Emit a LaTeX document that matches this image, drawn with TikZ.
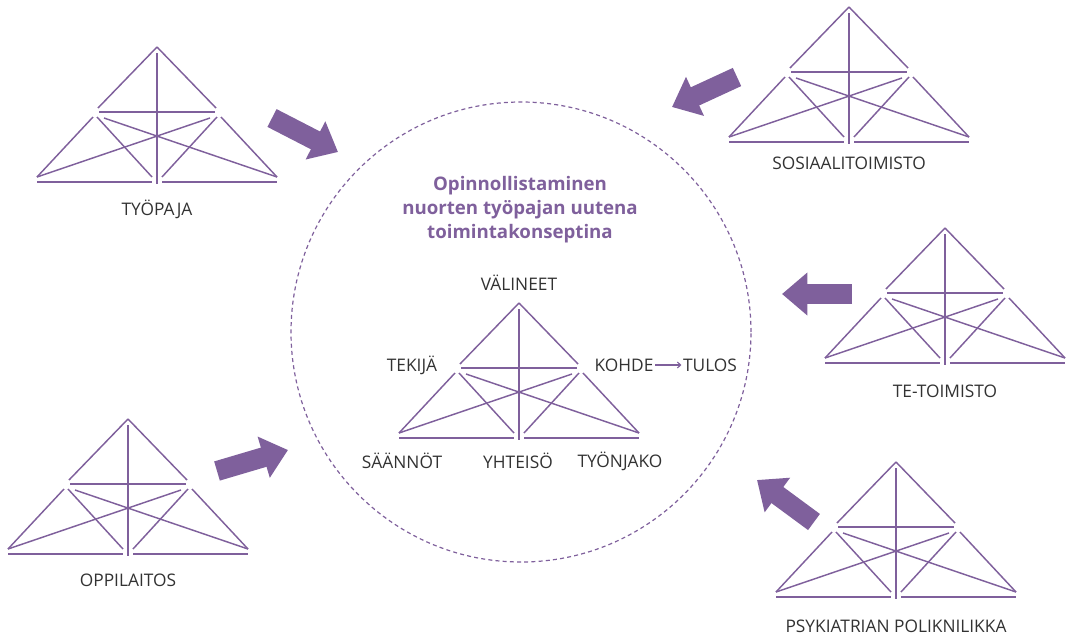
\documentclass[tikz,border=0pt]{standalone}
\usepackage{fontspec}
\setmainfont{Open Sans}
\usetikzlibrary{arrows.meta}

\definecolor{lila}{RGB}{127,96,156}
\definecolor{teksti}{RGB}{50,50,50}

\tikzset{
  tri/.style={draw=lila, line width=1.1pt},
  nimi/.style={text=teksti, inner sep=1pt, font=\fontsize{13}{15}\selectfont},
  nuoli/.style={draw=lila, line width=15pt, -{Triangle[length=19pt,width=31pt]}},
  actsys/.pic={
    % ylakolmio
    \draw[tri] (0,-130) -- (-59,-69);
    \draw[tri] (0,-130) -- (59,-69);
    \draw[tri] (-58,-65) -- (58,-65);
    % sivut ja lavistajat
    \draw[tri] (-64,-60) -- (-120,0);
    \draw[tri] (64,-60) -- (120,0);
    \draw[tri] (-60,-60) -- (-5,0);
    \draw[tri] (60,-60) -- (5,0);
    \draw[tri] (-53,-59) -- (120,0);
    \draw[tri] (53,-59) -- (-120,0);
    % pohja ja keskiviiva
    \draw[tri] (-120,5) -- (-5,5);
    \draw[tri] (5,5) -- (120,5);
    \draw[tri] (0,-124) -- (0,7);
  }
}

\begin{document}
\begin{tikzpicture}[x=0.75pt, y=-0.75pt]
  \useasboundingbox (0,0) rectangle (1072,636);

  % keskellä: toimintajärjestelmä
  \coordinate (keski) at (521,332);
  \draw[lila, line width=0.9pt, dash pattern=on 3pt off 2.4pt] (keski) circle [radius=172.5pt];
  \node[text=lila, align=center, font=\bfseries\fontsize{14}{18}\selectfont] (otsikko) at (520,210)
    {Opinnollistaminen\\nuorten työpajan uutena\\toimintakonseptina};
  \pic (ks) at (519,433) {actsys};
  \node[nimi] (valineet) at (519,283) {VÄLINEET};
  \node[nimi] (tekija) at (412,365) {TEKIJÄ};
  \node[nimi] (kohde) at (624,365) {KOHDE};
  \node[nimi] (tulos) at (710,365) {TULOS};
  \node[nimi] (saannot) at (402,461) {SÄÄNNÖT};
  \node[nimi] (yhteiso) at (518,461) {YHTEISÖ};
  \node[nimi] (tyonjako) at (620,461) {TYÖNJAKO};
  \draw[lila, line width=0.8pt, -{Straight Barb[length=2.5pt,width=4.5pt]}] (kohde) -- (tulos);

  % ympärillä
  \pic (tp) at (157,177) {actsys};
  \node[nimi] (tyopaja) at (157,209) {TYÖPAJA};
  \pic (so) at (849,137) {actsys};
  \node[nimi] (sosiaali) at (849,163) {SOSIAALITOIMISTO};
  \pic (te) at (945,358) {actsys};
  \node[nimi] (tetoimisto) at (945,391) {TE-TOIMISTO};
  \pic (ps) at (896,592) {actsys};
  \node[nimi] (psyk) at (896,626) {PSYKIATRIAN POLIKNILIKKA};
  \pic (op) at (128,549) {actsys};
  \node[nimi] (oppilaitos) at (128,580) {OPPILAITOS};

  % nuolet
  \coordinate (tp-a) at (272,118);  \coordinate (tp-b) at (338,152);
  \coordinate (so-a) at (737,77);   \coordinate (so-b) at (672,107);
  \coordinate (te-a) at (852,294);  \coordinate (te-b) at (782,294);
  \coordinate (ps-a) at (814,522);  \coordinate (ps-b) at (757,480);
  \coordinate (op-a) at (217,471);  \coordinate (op-b) at (288,450);
  \foreach \s in {tp,so,te,ps,op}
    \draw[nuoli] (\s-a) -- (\s-b);
\end{tikzpicture}
\end{document}
